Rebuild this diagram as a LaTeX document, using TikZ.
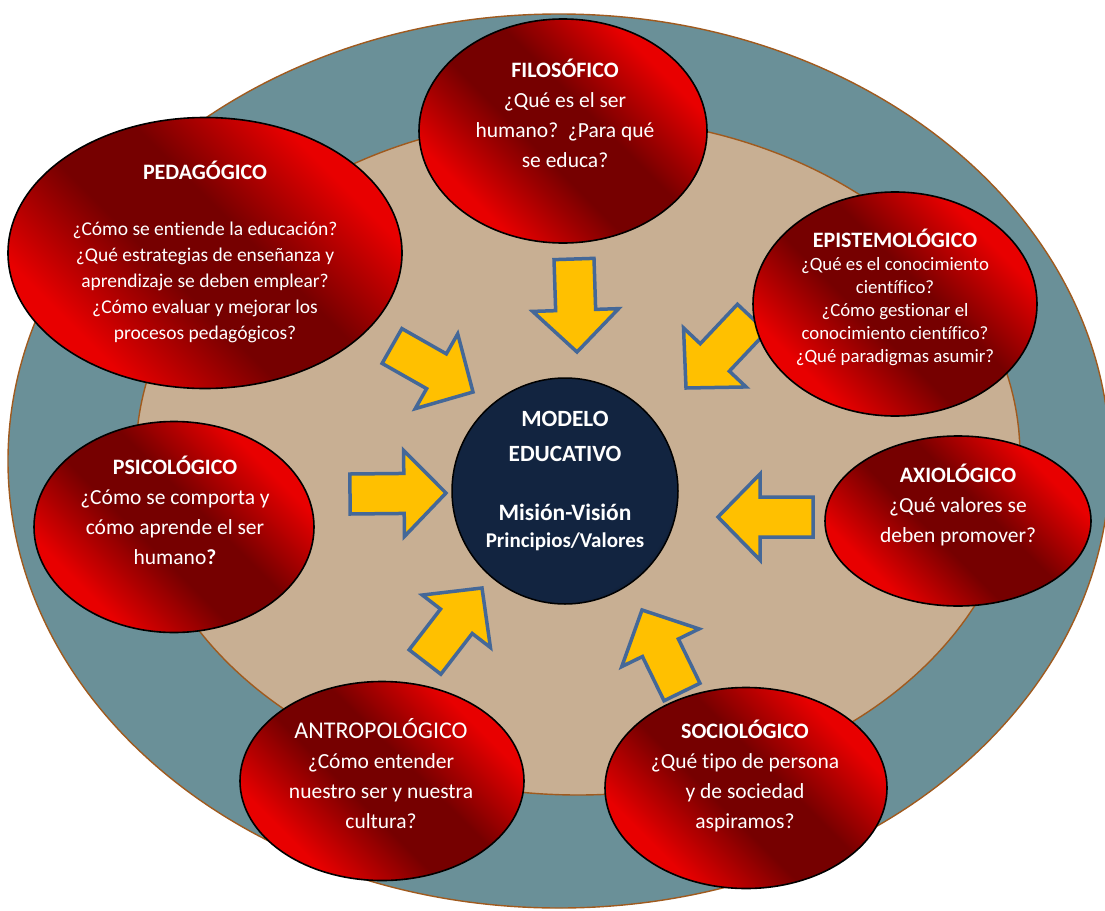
\documentclass[tikz,border=0pt]{standalone}
\usepackage{fontspec}
\setmainfont{Carlito}[Ligatures=NoCommon]
\usetikzlibrary{shapes.geometric,calc}

\definecolor{ringteal}{RGB}{106,144,152}
\definecolor{ringtan}{RGB}{200,175,147}
\definecolor{ringline}{RGB}{160,90,30}
\definecolor{redhi}{RGB}{232,0,0}
\definecolor{redlo}{RGB}{118,0,0}
\definecolor{corenavy}{RGB}{18,36,64}
\definecolor{coredark}{RGB}{6,12,22}
\definecolor{arrowfill}{RGB}{255,192,0}
\definecolor{arrowline}{RGB}{68,104,152}

\pgfdeclareverticalshading{redband}{100bp}{color(0bp)=(redhi); color(28bp)=(redhi);
	color(44bp)=(redlo); color(56bp)=(redlo); color(72bp)=(redhi); color(100bp)=(redhi)}
\pgfdeclareradialshading{coreshade}{\pgfpoint{-5bp}{5bp}}{color(0bp)=(corenavy);
	color(27bp)=(corenavy); color(33bp)=(coredark); color(50bp)=(coredark)}

% title of one dimension
\newcommand{\ttl}[1]{{\fontsize{22}{26}\selectfont\bfseries #1}}

% block arrow from tail #1 to tip #2
\newcommand{\blockarrow}[2]{%
  \coordinate (hb) at ($(#2)!42pt!(#1)$);
  \draw[barrow] ($(#1)!20pt!90:(#2)$) -- ($(hb)!20pt!90:(#2)$) -- ($(hb)!43pt!90:(#2)$)
    -- (#2) -- ($(hb)!43pt!-90:(#2)$) -- ($(hb)!20pt!-90:(#2)$) -- ($(#1)!20pt!-90:(#2)$) -- cycle;
}

\begin{document}
\begin{tikzpicture}[
			x = 1pt, y = -1pt,
			ring/.style = {ellipse, draw = ringline, line width = 1.4pt, inner sep = 0pt},
			redell/.style = {ellipse, draw = black, line width = 1.6pt, inner sep = 0pt,
				shading = redband, shading angle = -45},
			barrow/.style = {fill = arrowfill, draw = arrowline, line width = 3.5pt, line join = miter},
			qtext/.style = {text = white, align = center, inner sep = 0pt}
			]
			\useasboundingbox (0,0) rectangle (1105,910);

			% rings
			\node[ring, fill = ringteal, minimum width = 1102, minimum height = 894] (outer) at (559,461) {};
			\node[ring, fill = ringtan, minimum width = 884, minimum height = 678] (inner) at (578,456) {};

			% arrows
			\coordinate (ta1) at (574,259); \coordinate (tp1) at (577,352);
			\coordinate (ta2) at (392,346); \coordinate (tp2) at (473,392);
			\coordinate (ta3) at (752,318); \coordinate (tp3) at (686,388);
			\coordinate (ta4) at (350,494); \coordinate (tp4) at (446,493);
			\coordinate (ta5) at (813,517); \coordinate (tp5) at (718,517);
			\coordinate (ta6) at (425,662); \coordinate (tp6) at (482,588);
			\coordinate (ta7) at (682,692); \coordinate (tp7) at (642,610);
			\foreach \i in {1,...,7}
				\blockarrow{ta\i}{tp\i};

			% dimensions
			\node[redell, minimum width = 394, minimum height = 271] (ped) at (205,253) {};
			\node[redell, minimum width = 288, minimum height = 224] (filo) at (563,131) {};
			\node[redell, minimum width = 284, minimum height = 224] (epis) at (895,304) {};
			\node[redell, minimum width = 266, minimum height = 170] (axio) at (958,521) {};
			\node[redell, minimum width = 280, minimum height = 211] (psic) at (174,527) {};
			\node[redell, minimum width = 284, minimum height = 199] (antro) at (382,781) {};
			\node[redell, minimum width = 282, minimum height = 201] (socio) at (746,788) {};

			\node[qtext, font = \fontsize{19.5}{26}\selectfont] (ped-t) at (205,252)
				{\ttl{PEDAGÓGICO}\\[30pt]¿Cómo se entiende la educación?\\¿Qué estrategias de enseñanza y\\aprendizaje se deben emplear?\\¿Cómo evaluar y mejorar los\\procesos pedagógicos?};
			\node[qtext, font = \fontsize{21.5}{30}\selectfont] (filo-t) at (565,113)
				{\ttl{FILOSÓFICO}\\¿Qué es el ser\\humano?~~¿Para qué\\se educa?};
			\node[qtext, font = \fontsize{18.8}{23}\selectfont] (epis-t) at (895,297)
				{\ttl{EPISTEMOLÓGICO}\\¿Qué es el conocimiento\\científico?\\¿Cómo gestionar el\\conocimiento científico?\\¿Qué paradigmas asumir?};
			\node[qtext, font = \fontsize{21.5}{30}\selectfont] (axio-t) at (958,505)
				{\ttl{AXIOLÓGICO}\\¿Qué valores se\\deben promover?};
			\node[qtext, font = \fontsize{21.5}{30}\selectfont] (psic-t) at (175,510)
				{\ttl{PSICOLÓGICO}\\¿Cómo se comporta y\\cómo aprende el ser\\humano\textbf{?}};
			\node[qtext, font = \fontsize{21.5}{30}\selectfont] (antro-t) at (381,774)
				{{\fontsize{24}{30}\selectfont ANTROPOLÓGICO}\\¿Cómo entender\\nuestro ser y nuestra\\cultura?};
			\node[qtext, font = \fontsize{21.5}{30}\selectfont] (socio-t) at (745,776)
				{\ttl{SOCIOLÓGICO}\\¿Qué tipo de persona\\y de sociedad\\aspiramos?};

			% core
			\node[circle, draw = black, line width = 1.5pt, shading = coreshade, minimum size = 226, inner sep = 0pt] (core) at (565,491) {};
			\node[qtext, font = \fontsize{23.3}{35}\bfseries] (core-t1) at (565,436) {MODELO\\EDUCATIVO};
			\node[qtext, font = \fontsize{23.5}{27}\bfseries] (core-t2) at (565,527)
				{Misión-Visión\\{\fontsize{21}{27}\selectfont Principios/Valores}};

		\end{tikzpicture}
\end{document}
